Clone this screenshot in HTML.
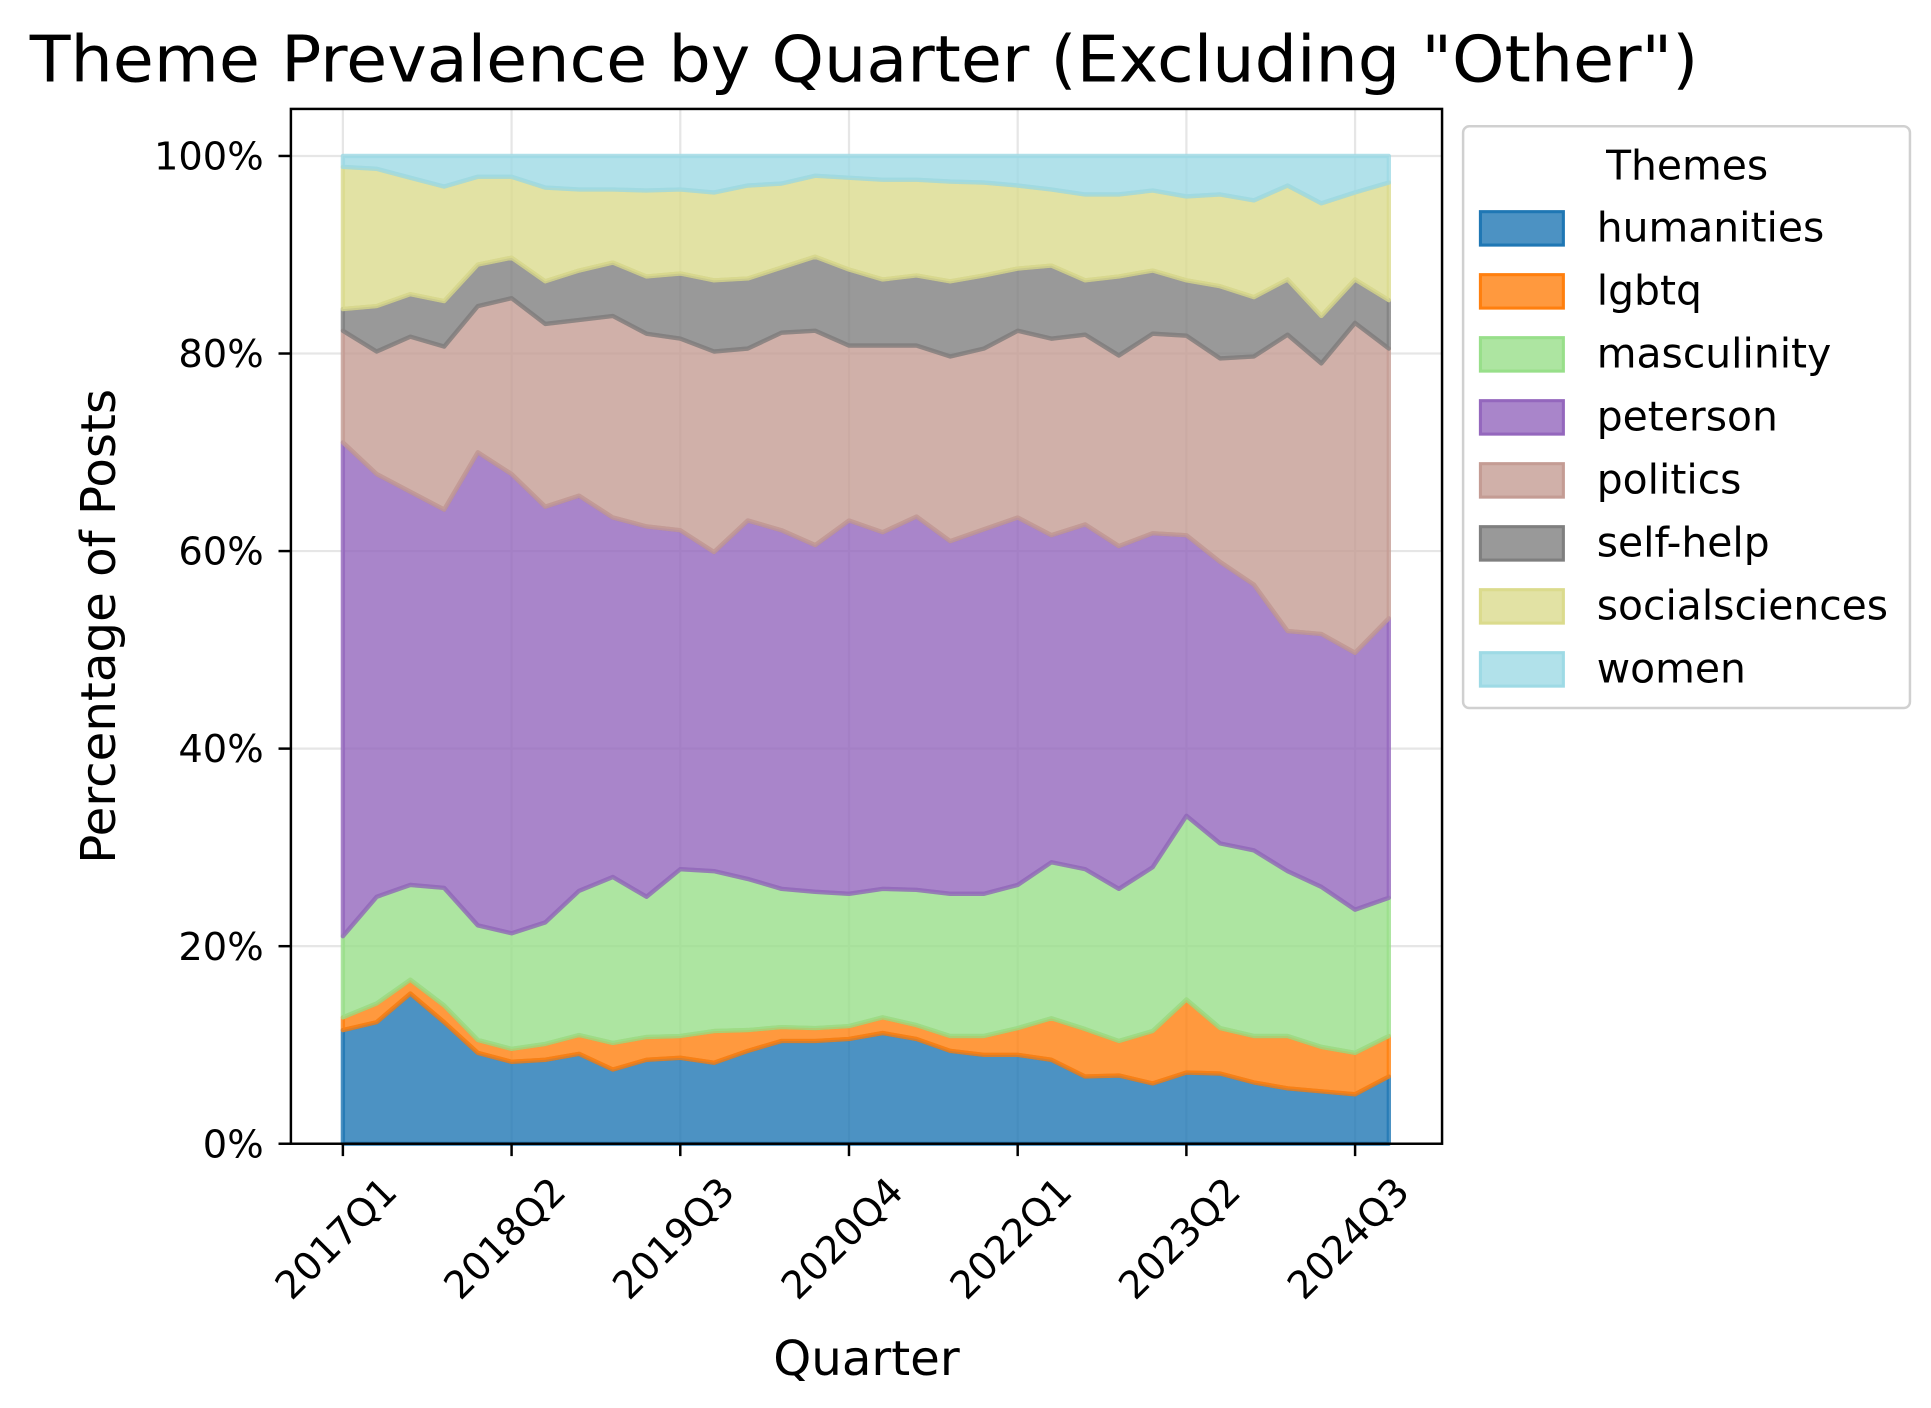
<!DOCTYPE html>
<html><head><meta charset="utf-8"><style>
html,body{margin:0;padding:0;background:#fff;}
svg{display:block;font-family:"DejaVu Sans","Liberation Sans",sans-serif;}
</style></head><body>
<svg id="chart" width="1931" height="1408" viewBox="0 0 1560 1137.5" xmlns="http://www.w3.org/2000/svg">
<rect width="1560" height="1137.5" fill="#fff"/>
<text x="24" y="66" font-size="52" textLength="1348" lengthAdjust="spacingAndGlyphs">Theme Prevalence by Quarter (Excluding "Other")</text>
<g id="grid"></g>
<g id="areas"></g>
<rect x="235" y="88" width="930" height="836" fill="none" stroke="#000" stroke-width="2"/>
<g id="axes"></g>
<text transform="translate(93,506) rotate(-90)" text-anchor="middle" font-size="39">Percentage of Posts</text>
<text x="700" y="1111" text-anchor="middle" font-size="39">Quarter</text>
<g id="legend"></g>
</svg>
<script>
const quarters = ["2017Q1","2017Q2","2017Q3","2017Q4","2018Q1","2018Q2","2018Q3","2018Q4","2019Q1","2019Q2","2019Q3","2019Q4","2020Q1","2020Q2","2020Q3","2020Q4","2021Q1","2021Q2","2021Q3","2021Q4","2022Q1","2022Q2","2022Q3","2022Q4","2023Q1","2023Q2","2023Q3","2023Q4","2024Q1","2024Q2","2024Q3","2024Q4"];
const themes = ["humanities","lgbtq","masculinity","peterson","politics","self-help","socialsciences","women"];
const colors = ["#1f77b4","#ff7f0e","#98df8a","#9467bd","#c49c94","#7f7f7f","#dbdb8d","#9edae5"];
// cumulative stack top (%) per theme
const humanitiesTop = [11.5,12.3,15.2,12.3,9.2,8.3,8.5,9.1,7.5,8.5,8.7,8.2,9.4,10.4,10.4,10.6,11.2,10.6,9.4,9.0,9.0,8.5,6.8,6.9,6.1,7.2,7.1,6.2,5.6,5.3,5.0,6.8];
const lgbtqTop = [12.8,14.2,16.6,14.0,10.5,9.6,10.1,11.0,10.2,10.8,10.9,11.4,11.5,11.8,11.7,11.9,12.8,12.0,10.9,10.9,11.7,12.7,11.6,10.4,11.4,14.6,11.7,10.9,10.9,9.8,9.2,10.9];
const masculinityTop = [21,25,26.2,25.9,22.1,21.3,22.4,25.6,27,25,27.8,27.6,26.8,25.8,25.5,25.3,25.8,25.7,25.3,25.3,26.2,28.5,27.8,25.8,28,33.2,30.4,29.7,27.6,26,23.7,24.9];
const petersonTop = [71,67.8,66,64.2,70,67.8,64.5,65.6,63.4,62.5,62.1,59.9,63.1,62.1,60.6,63.1,61.9,63.5,61,62.2,63.4,61.6,62.7,60.5,61.8,61.6,58.9,56.6,51.9,51.6,49.7,53.2];
const politicsTop = [82.3,80.2,81.7,80.7,84.8,85.6,83,83.4,83.8,82,81.5,80.2,80.5,82.1,82.3,80.8,80.8,80.8,79.7,80.5,82.3,81.5,81.9,79.8,82,81.8,79.5,79.7,81.9,79,83.1,80.5];
const selfHelpTop = [84.5,84.8,86,85.3,89,89.7,87.3,88.4,89.2,87.8,88.1,87.4,87.6,88.7,89.8,88.5,87.5,87.9,87.3,87.9,88.6,88.9,87.4,87.8,88.4,87.4,86.8,85.7,87.5,83.8,87.5,85.4];
const socialsciencesTop = [98.9,98.7,97.8,96.9,97.9,97.9,96.8,96.6,96.6,96.5,96.6,96.3,97,97.2,98,97.8,97.6,97.6,97.4,97.3,97,96.6,96.1,96.1,96.5,95.9,96.1,95.5,97,95.2,96.3,97.3];
const womenTop = [100,100,100,100,100,100,100,100,100,100,100,100,100,100,100,100,100,100,100,100,100,100,100,100,100,100,100,100,100,100,100,100];
const yTicks = [0,20,40,60,80,100];
const xTickEvery = 5;

const tops = [humanitiesTop,lgbtqTop,masculinityTop,petersonTop,politicsTop,selfHelpTop,socialsciencesTop,womenTop];
const NS = "http://www.w3.org/2000/svg";
const X0 = 277, DX = (1122 - 277) / 31;
const xs = i => X0 + i * DX;
const ys = v => 924 - v * 7.98;
function mk(tag, attrs, parent){ const e=document.createElementNS(NS,tag); for(const k in attrs) e.setAttribute(k,attrs[k]); parent.appendChild(e); return e; }

const grid=document.getElementById('grid'), areas=document.getElementById('areas'), axes=document.getElementById('axes'), legend=document.getElementById('legend');
yTicks.forEach(t=>{
  const g=mk('line',{x1:235,x2:1165,y1:ys(t),y2:ys(t),stroke:'#e6e6e6','stroke-width':1.8},grid);
  
  
  const tk=mk('line',{x1:225,x2:235,y1:ys(t),y2:ys(t),stroke:'#000','stroke-width':2},axes);
  
  
  const tl=mk('text',{x:213,y:ys(t)+11,'text-anchor':'end','font-size':31},axes);
  tl.textContent=t+'%';
  
  
});
quarters.forEach((q,i)=>{
  if(i%xTickEvery) return;
  const x=xs(i);
  const g=mk('line',{x1:x,x2:x,y1:88,y2:924,stroke:'#e6e6e6','stroke-width':1.8},grid);
  
  
  const tk=mk('line',{x1:x,x2:x,y1:924,y2:934,stroke:'#000','stroke-width':2},axes);
  
  
  const tl=mk('text',{transform:`translate(${x+2},${1008}) rotate(-45)`,'text-anchor':'middle','font-size':31},axes);
  tl.textContent=q;
  
  
});
tops.forEach((top,s)=>{
  const bottom = s===0 ? top.map(()=>0) : tops[s-1];
  let d='M'+top.map((v,i)=>xs(i).toFixed(1)+','+ys(v).toFixed(1)).join('L');
  for(let i=bottom.length-1;i>=0;i--) d+='L'+xs(i).toFixed(1)+','+ys(bottom[i]).toFixed(1);
  d+='Z';
  const p=mk('path',{d:d,fill:colors[s],'fill-opacity':0.8,stroke:colors[s],'stroke-opacity':0.8,'stroke-width':3.5,'stroke-linejoin':'round'},areas);
  
  
});
const box=mk('rect',{x:1182,y:102,width:361,height:470,rx:5,fill:'#fff',stroke:'#d0d0d0','stroke-width':2},legend);


const lt=mk('text',{x:1363,y:145,'text-anchor':'middle','font-size':33},legend);
lt.textContent='Themes';


themes.forEach((t,s)=>{
  const y=184+s*50.9;
  const r=mk('rect',{x:1196,y:y-13,width:67,height:27,fill:colors[s],'fill-opacity':0.8,stroke:colors[s],'stroke-width':2.5},legend);
  
  
  const tx=mk('text',{x:1290,y:y+11,'font-size':33},legend);
  tx.textContent=t;
  
  
});
</script>
</body></html>
